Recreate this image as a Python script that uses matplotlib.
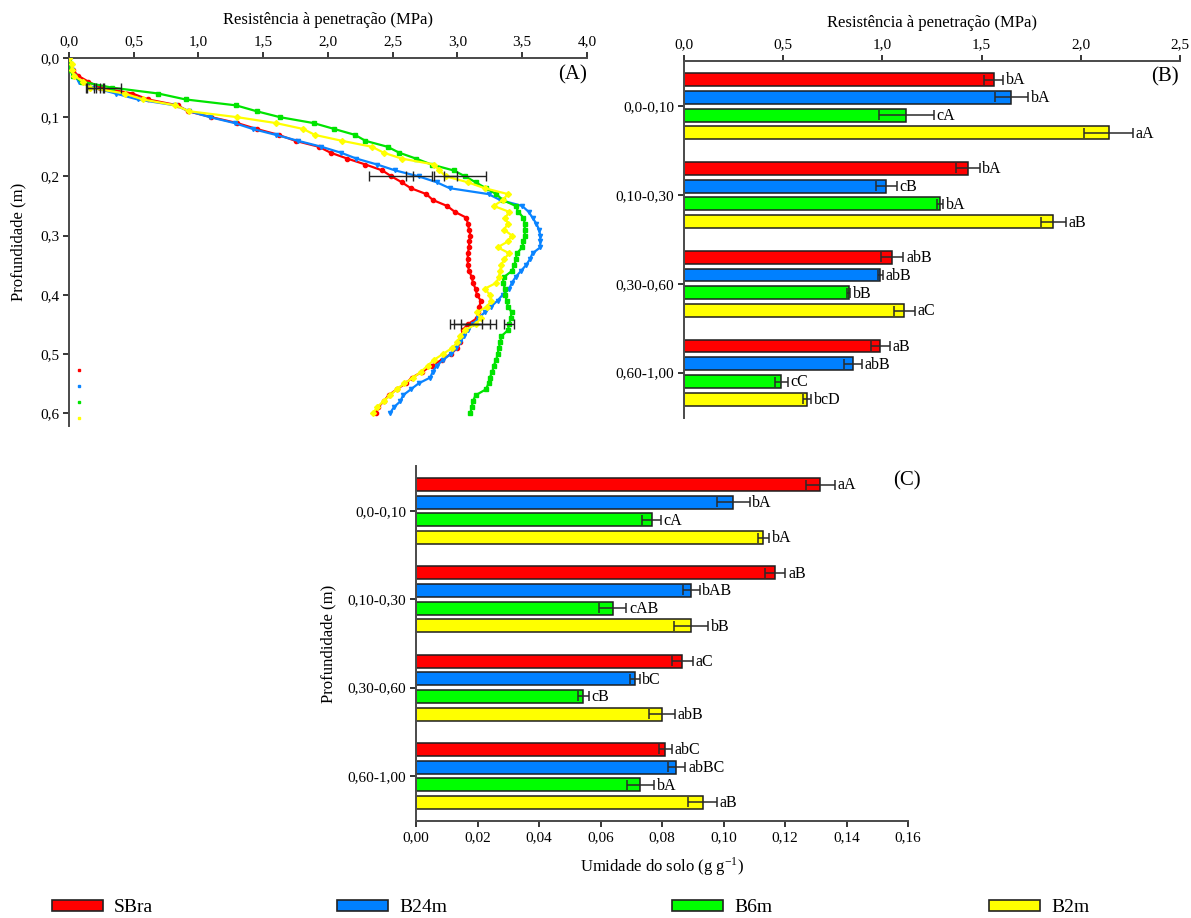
import numpy as np
import matplotlib.pyplot as plt
from matplotlib.patches import Patch
from matplotlib.ticker import FuncFormatter

plt.rcParams['font.family'] = ['Liberation Serif', 'DejaVu Serif']
plt.rcParams['mathtext.fontset'] = 'stix'

# tratamentos e camadas
tratamentos = ['SBra', 'B24m', 'B6m', 'B2m']
cores = ['#ff0000', '#0080ff', '#00ff00', '#ffff00']
cores_linha = ['#ff0000', '#0a84ff', '#00e400', '#ffff00']
marcadores = ['o', 'v', 's', 'D']
camadas = ['0,0-0,10', '0,10-0,30', '0,30-0,60', '0,60-1,00']

# (A) perfil de resistencia a penetracao, leituras a cada 0,01 m
prof = np.round(np.arange(61) * 0.01, 2)
rp_perfil_sbra = [0.00, 0.01, 0.03, 0.07, 0.15, 0.24, 0.49, 0.61, 0.84, 0.92,
                  1.10, 1.30, 1.45, 1.62, 1.75, 1.93, 2.02, 2.15, 2.29, 2.42,
                  2.49, 2.57, 2.64, 2.76, 2.81, 2.92, 2.98, 3.07, 3.08, 3.09,
                  3.10, 3.09, 3.09, 3.08, 3.08, 3.08, 3.09, 3.11, 3.12, 3.14,
                  3.15, 3.18, 3.17, 3.16, 3.15, 3.08, 3.04, 3.03, 3.02, 3.00,
                  2.95, 2.88, 2.80, 2.73, 2.65, 2.60, 2.53, 2.47, 2.43, 2.39, 2.37]
rp_perfil_b24m = [0.00, 0.01, 0.02, 0.04, 0.08, 0.19, 0.36, 0.53, 0.82, 0.93,
                  1.09, 1.28, 1.42, 1.60, 1.77, 1.95, 2.10, 2.22, 2.38, 2.52,
                  2.70, 2.84, 2.94, 3.24, 3.33, 3.50, 3.55, 3.58, 3.61, 3.63,
                  3.64, 3.64, 3.64, 3.58, 3.56, 3.53, 3.49, 3.45, 3.42, 3.40,
                  3.35, 3.31, 3.26, 3.21, 3.16, 3.12, 3.08, 3.05, 3.02, 2.99,
                  2.95, 2.89, 2.84, 2.81, 2.79, 2.70, 2.64, 2.58, 2.56, 2.51, 2.48]
rp_perfil_b6m = [0.00, 0.00, 0.01, 0.03, 0.10, 0.33, 0.69, 0.90, 1.29, 1.45,
                 1.63, 1.89, 2.05, 2.21, 2.29, 2.46, 2.55, 2.68, 2.80, 2.97,
                 3.06, 3.14, 3.22, 3.30, 3.35, 3.45, 3.47, 3.51, 3.52, 3.52,
                 3.52, 3.51, 3.50, 3.46, 3.45, 3.44, 3.42, 3.36, 3.35, 3.37,
                 3.37, 3.38, 3.39, 3.42, 3.41, 3.40, 3.39, 3.34, 3.33, 3.32,
                 3.31, 3.30, 3.28, 3.27, 3.25, 3.24, 3.22, 3.14, 3.12, 3.11, 3.10]
rp_perfil_b2m = [0.00, 0.02, 0.02, 0.04, 0.11, 0.16, 0.43, 0.57, 0.82, 0.93,
                 1.30, 1.60, 1.81, 1.90, 2.11, 2.34, 2.43, 2.57, 2.82, 2.86,
                 2.91, 3.08, 3.21, 3.39, 3.35, 3.28, 3.40, 3.37, 3.39, 3.36,
                 3.42, 3.39, 3.31, 3.40, 3.36, 3.34, 3.33, 3.32, 3.30, 3.21,
                 3.25, 3.26, 3.23, 3.15, 3.18, 3.14, 3.06, 3.02, 3.00, 2.96,
                 2.89, 2.82, 2.77, 2.72, 2.66, 2.59, 2.53, 2.48, 2.43, 2.38, 2.35]
# desvios nas profundidades 0,05 / 0,20 / 0,45 m
prof_erro = [0.05, 0.20, 0.45]
erro_perfil_sbra = [0.03, 0.17, 0.11]
erro_perfil_b24m = [0.05, 0.10, 0.18]
erro_perfil_b6m = [0.07, 0.16, 0.04]
erro_perfil_b2m = [0.03, 0.09, 0.11]

# (B) resistencia a penetracao por camada
rp_sbra = [1.56, 1.43, 1.05, 0.99]
rp_b24m = [1.65, 1.02, 0.99, 0.85]
rp_b6m = [1.12, 1.29, 0.83, 0.49]
rp_b2m = [2.14, 1.86, 1.11, 0.62]
rp_erro_sbra = [0.05, 0.06, 0.055, 0.046]
rp_erro_b24m = [0.084, 0.054, 0.011, 0.046]
rp_erro_b6m = [0.138, 0.015, 0.008, 0.033]
rp_erro_b2m = [0.124, 0.063, 0.054, 0.019]
rp_letras_sbra = ['bA', 'bA', 'abB', 'aB']
rp_letras_b24m = ['bA', 'cB', 'abB', 'abB']
rp_letras_b6m = ['cA', 'bA', 'bB', 'cC']
rp_letras_b2m = ['aA', 'aB', 'aC', 'bcD']

# (C) umidade do solo por camada
um_sbra = [0.1315, 0.1168, 0.0866, 0.0811]
um_b24m = [0.1032, 0.0895, 0.0712, 0.0847]
um_b6m = [0.0766, 0.0639, 0.0544, 0.0730]
um_b2m = [0.1130, 0.0894, 0.0799, 0.0932]
um_erro_sbra = [0.0046, 0.0033, 0.0035, 0.0020]
um_erro_b24m = [0.0053, 0.0027, 0.0015, 0.0029]
um_erro_b6m = [0.0031, 0.0045, 0.0017, 0.0044]
um_erro_b2m = [0.0019, 0.0056, 0.0042, 0.0046]
um_letras_sbra = ['aA', 'aB', 'aC', 'abC']
um_letras_b24m = ['bA', 'bAB', 'bC', 'abBC']
um_letras_b6m = ['cA', 'cAB', 'cB', 'bA']
um_letras_b2m = ['bA', 'bB', 'abB', 'aB']

cor_eixo = '#4a4a4a'


def virgula(dec):
    return FuncFormatter(lambda v, p: f"{v:.{dec}f}".replace('.', ','))


def estilo_eixo(ax, topo):
    for lado in ['left', 'right', 'top', 'bottom']:
        ax.spines[lado].set_visible(False)
    ax.spines['left'].set_visible(True)
    ax.spines['top' if topo else 'bottom'].set_visible(True)
    for lado in ['left', 'top', 'bottom']:
        ax.spines[lado].set_color(cor_eixo)
        ax.spines[lado].set_linewidth(1.4)
    ax.tick_params(direction='out', length=4, width=1.1, labelsize=11, pad=3)
    if topo:
        ax.xaxis.tick_top()
        ax.xaxis.set_label_position('top')


def barras(ax, medias, erros, letras, dx):
    desloc = [-0.3, -0.1, 0.1, 0.3]
    pos = np.arange(len(camadas))
    for k in range(4):
        y = pos + desloc[k]
        ax.barh(y, medias[k], height=0.145, color=cores[k], edgecolor='#1e1e1e',
                linewidth=1.1, zorder=2)
        ax.errorbar(medias[k], y, xerr=erros[k], fmt='none', ecolor='#2a2a2a',
                    elinewidth=1.1, capsize=3.6, capthick=1.1, zorder=3)
        for yy, m, e, t in zip(y, medias[k], erros[k], letras[k]):
            ax.text(m + e + dx, yy + 0.01, t, ha='left', va='center', fontsize=11.5)
    ax.set_yticks(pos)
    ax.set_yticklabels(camadas)
    ax.set_ylim(3.51, -0.51)


fig = plt.figure(figsize=(11.91, 9.18), dpi=100)

# ---------- (A) ----------
axA = fig.add_axes([0.0579, 0.5359, 0.4349, 0.4009])
estilo_eixo(axA, topo=True)
perfis = [rp_perfil_sbra, rp_perfil_b24m, rp_perfil_b6m, rp_perfil_b2m]
erros_perfil = [erro_perfil_sbra, erro_perfil_b24m, erro_perfil_b6m, erro_perfil_b2m]
for k in range(4):
    axA.plot(perfis[k], prof, color=cores_linha[k], lw=1.6, marker=marcadores[k],
             ms=3.0, mec=cores_linha[k], zorder=2 + k)
for k in range(4):
    idx = [int(round(p * 100)) for p in prof_erro]
    xs = [perfis[k][i] for i in idx]
    axA.errorbar(xs, prof_erro, xerr=erros_perfil[k], fmt='none', ecolor='#222222',
                 elinewidth=1.0, capsize=3.6, capthick=1.0, zorder=8)
# marcadores soltos do canto inferior
for k, yy in enumerate([0.527, 0.554, 0.582, 0.609]):
    axA.plot([0.076], [yy], marker='s', ms=1.6, color=cores_linha[k], lw=0)
axA.set_xlim(0, 4.0)
axA.set_ylim(0.622, 0)
axA.set_xticks(np.arange(0, 4.01, 0.5))
axA.set_yticks(np.arange(0, 0.61, 0.1))
axA.xaxis.set_major_formatter(virgula(1))
axA.yaxis.set_major_formatter(virgula(1))
axA.set_xlabel('Resistência à penetração (MPa)', fontsize=12, labelpad=8)
axA.set_ylabel('Profundidade (m)', fontsize=12, labelpad=10)
axA.text(1.0, 0.954, '(A)', transform=axA.transAxes, ha='right', va='center', fontsize=15)

# ---------- (B) ----------
axB = fig.add_axes([0.5743, 0.5447, 0.4165, 0.3889])
estilo_eixo(axB, topo=True)
barras(axB, [rp_sbra, rp_b24m, rp_b6m, rp_b2m],
       [rp_erro_sbra, rp_erro_b24m, rp_erro_b6m, rp_erro_b2m],
       [rp_letras_sbra, rp_letras_b24m, rp_letras_b6m, rp_letras_b2m], 0.014)
axB.set_xlim(0, 2.5)
axB.set_xticks(np.arange(0, 2.51, 0.5))
axB.xaxis.set_major_formatter(virgula(1))
axB.set_xlabel('Resistência à penetração (MPa)', fontsize=12, labelpad=8)
axB.text(0.997, 0.955, '(B)', transform=axB.transAxes, ha='right', va='center', fontsize=15)

# ---------- (C) ----------
axC = fig.add_axes([0.3493, 0.1057, 0.4131, 0.3867])
estilo_eixo(axC, topo=False)
barras(axC, [um_sbra, um_b24m, um_b6m, um_b2m],
       [um_erro_sbra, um_erro_b24m, um_erro_b6m, um_erro_b2m],
       [um_letras_sbra, um_letras_b24m, um_letras_b6m, um_letras_b2m], 0.0009)
axC.set_xlim(0, 0.16)
axC.set_xticks(np.arange(0, 0.161, 0.02))
axC.xaxis.set_major_formatter(virgula(2))
axC.set_xlabel(r'Umidade do solo (g g$^{\mathregular{-1}}$)', fontsize=12, labelpad=8)
axC.set_ylabel('Profundidade (m)', fontsize=12, labelpad=8)
axC.text(1.026, 0.959, '(C)', transform=axC.transAxes, ha='right', va='center', fontsize=15)

# ---------- legenda ----------
pos_leg = [52, 337, 672, 989]
for k in range(4):
    h = Patch(facecolor=cores[k], edgecolor='#222222', linewidth=1.2, label=tratamentos[k])
    fig.legend(handles=[h], loc='center left', bbox_to_anchor=(pos_leg[k] / 1191, 0.011),
               frameon=False, fontsize=14, handlelength=2.6, handleheight=0.55,
               handletextpad=0.6, borderpad=0, borderaxespad=0)

fig.savefig('out.png', dpi=100)
